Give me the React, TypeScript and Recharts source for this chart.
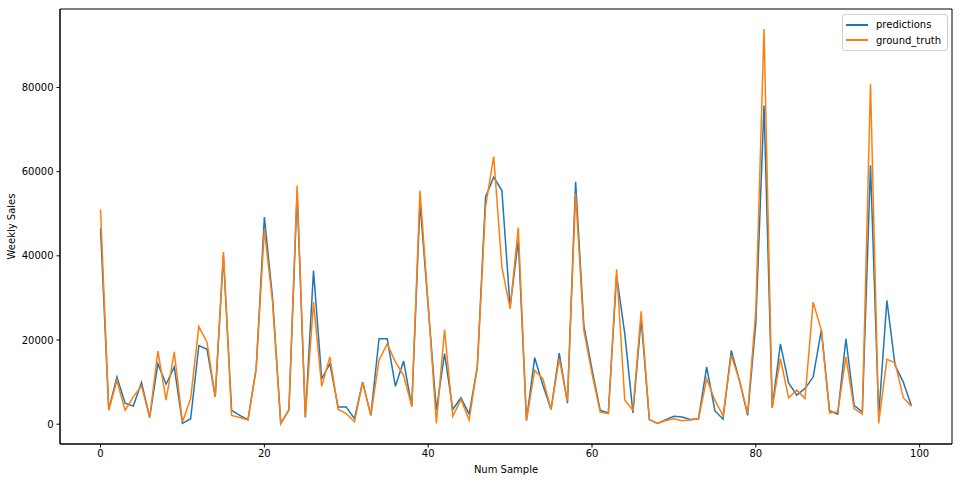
import { LineChart, Line, XAxis, YAxis, ReferenceArea } from 'recharts';

const samples = Array.from({ length: 100 }, (_, i) => i);

const predictions = [
  46500, 3500, 11200, 5000, 4300, 9900, 1600, 14400, 9500, 13600,
  200, 1300, 18700, 17800, 6500, 40100, 3300, 2100, 1100, 13200,
  49200, 30000, 200, 3400, 55000, 1600, 36500, 10800, 14400, 4100,
  4100, 1300, 10000, 2100, 20300, 20300, 9000, 15000, 4200, 52700,
  28000, 3300, 16800, 3500, 6300, 2400, 13600, 54000, 58700, 55500,
  27800, 43700, 900, 15800, 9300, 3500, 16900, 5000, 57600, 23500,
  13000, 3300, 2700, 35400, 21500, 2700, 25000, 1100, 200, 1100,
  1900, 1700, 1100, 1300, 13600, 3200, 1200, 17500, 10400, 2100,
  24000, 75700, 3900, 19100, 9800, 6900, 8500, 11200, 22400, 3200,
  2400, 20300, 4500, 2900, 61500, 2000, 29400, 14000, 10000, 4300,
];

const groundTruth = [
  51000, 3300, 10400, 3300, 6500, 9100, 1600, 17400, 5700, 17200,
  500, 6100, 23200, 19500, 6500, 40900, 2100, 1600, 1000, 13200,
  46200, 29000, 100, 3400, 56700, 1800, 29000, 9000, 16000, 3500,
  2500, 600, 10000, 2100, 15200, 19100, 14800, 11600, 4200, 55500,
  28500, 200, 22500, 1900, 5900, 1000, 13600, 51600, 63600, 37300,
  27400, 46700, 900, 12800, 10800, 3500, 15600, 5500, 54800, 22300,
  12000, 2900, 2500, 36800, 5700, 3300, 26800, 1100, 200, 900,
  1300, 800, 1000, 1300, 10800, 5700, 2000, 16400, 10400, 2500,
  27000, 93900, 3900, 15600, 6300, 8100, 6100, 29000, 22300, 2700,
  2900, 16000, 3700, 2400, 80900, 200, 15400, 14600, 6300, 4300,
];

const xTicks = [0, 20, 40, 60, 80, 100];
const yTicks = [0, 20000, 40000, 60000, 80000];
const xDomain = [-4.95, 103.95];
const yDomain = [-4700, 98640];

const data = samples.map((s, i) => ({
  sample: s,
  predictions: predictions[i],
  ground_truth: groundTruth[i],
}));

const BLUE = '#1f77b4';
const ORANGE = '#ff7f0e';
const FONT = 'DejaVu Sans, sans-serif';
const tickStyle = { fontSize: 10, fill: '#000', fontFamily: FONT };

const legendItems = [
  ['predictions', BLUE],
  ['ground_truth', ORANGE],
];

export default function App() {
  return (
    <div style={{ position: 'absolute', left: 0, top: 0, width: 965, height: 484, background: '#fff' }}>
      <LineChart width={965} height={484} data={data} margin={{ top: 9, right: 13, bottom: 0, left: 0 }}>
        <XAxis
          dataKey="sample"
          type="number"
          domain={xDomain}
          ticks={xTicks}
          allowDataOverflow
          height={40}
          tick={tickStyle}
          tickSize={3.5}
          tickMargin={2}
          stroke="#000"
          tickLine={{ stroke: '#000' }}
          label={({ viewBox }: any) => (
            <text
              x={viewBox.x + viewBox.width / 2}
              y={viewBox.y + 29}
              textAnchor="middle"
              fontSize={10}
              fontFamily={FONT}
              fill="#000"
            >
              Num Sample
            </text>
          )}
        />
        <YAxis
          type="number"
          domain={yDomain}
          ticks={yTicks}
          allowDataOverflow
          width={60}
          tick={tickStyle}
          tickSize={3.5}
          tickMargin={3}
          stroke="#000"
          tickLine={{ stroke: '#000' }}
          label={({ viewBox }: any) => (
            <text
              x={15}
              y={viewBox.y + viewBox.height / 2}
              transform={`rotate(-90, 15, ${viewBox.y + viewBox.height / 2})`}
              textAnchor="middle"
              fontSize={10}
              fontFamily={FONT}
              fill="#000"
            >
              Weekly Sales
            </text>
          )}
        />
        <ReferenceArea
          x1={xDomain[0]}
          x2={xDomain[1]}
          y1={yDomain[0]}
          y2={yDomain[1]}
          fill="none"
          stroke="#000"
          strokeWidth={1}
          ifOverflow="visible"
        />
        <Line type="linear" dataKey="predictions" stroke={BLUE} strokeWidth={1.5} dot={false} isAnimationActive={false} />
        <Line type="linear" dataKey="ground_truth" stroke={ORANGE} strokeWidth={1.5} dot={false} isAnimationActive={false} />
      </LineChart>
      <div
        style={{
          position: 'absolute',
          top: 14,
          right: 17,
          border: '1px solid #d0d0d0',
          borderRadius: 3,
          background: 'rgba(255,255,255,0.8)',
          padding: '2px 6px 2px 3px',
          fontFamily: FONT,
          fontSize: 10,
          color: '#000',
          lineHeight: '15.5px',
        }}
      >
        {legendItems.map(([name, color]) => (
          <div key={name} style={{ display: 'flex', alignItems: 'center' }}>
            <span style={{ display: 'inline-block', width: 22, height: 2, background: color, marginRight: 8 }} />
            <span>{name}</span>
          </div>
        ))}
      </div>
    </div>
  );
}
